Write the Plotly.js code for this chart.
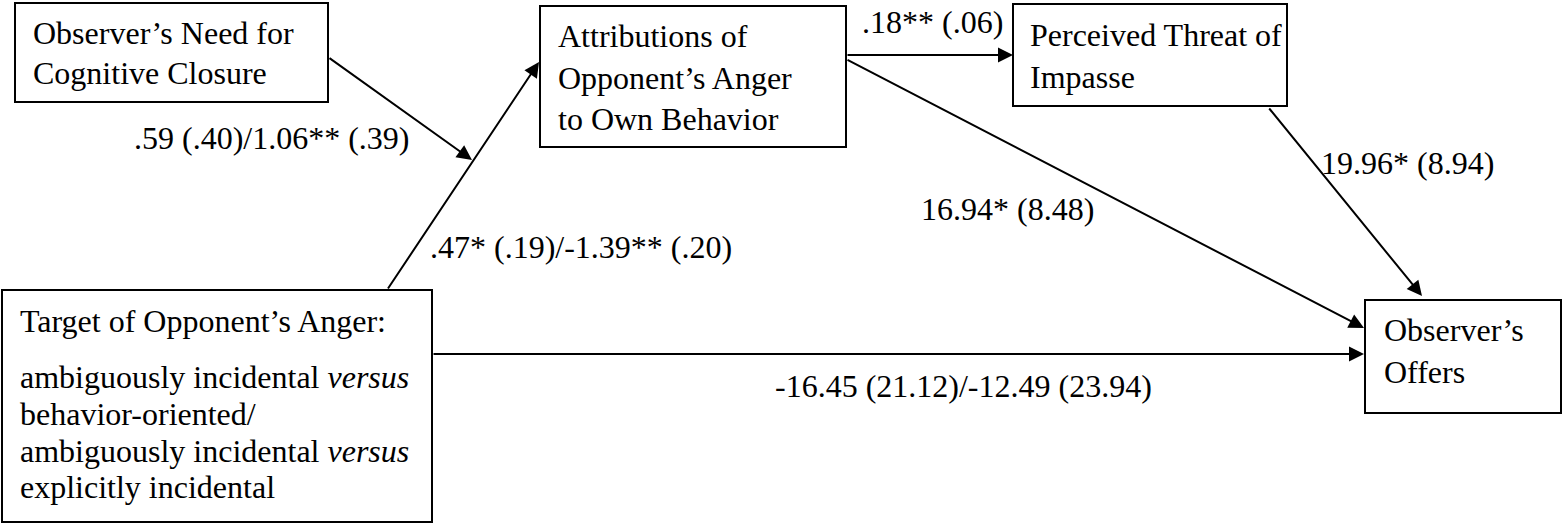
<!DOCTYPE html>
<html>
<head>
<meta charset="utf-8">
<script src="https://cdn.plot.ly/plotly-3.0.1.min.js"></script>
<style>
  html, body { margin: 0; padding: 0; background: #ffffff; }
  #chart { width: 1562px; height: 525px; }
</style>
</head>
<body>
<div id="chart"></div>
<script>
// ---------- data: node labels (one entry per text line) ----------
const nodeIds = ['need', 'attr', 'threat', 'target', 'offers'];
const needLabel = ['Observer’s Need for', 'Cognitive Closure'];
const attrLabel = ['Attributions of', 'Opponent’s Anger', 'to Own Behavior'];
const threatLabel = ['Perceived Threat of', 'Impasse'];
const targetLabel = [
  'Target of Opponent’s Anger:',
  'ambiguously incidental <i>versus</i>',
  'behavior-oriented/',
  'ambiguously incidental <i>versus</i>',
  'explicitly incidental'
];
const offersLabel = ['Observer’s', 'Offers'];

// ---------- data: paths and their coefficients (b (SE)) ----------
const pathFrom = ['need', 'target', 'attr', 'attr', 'threat', 'target'];
const pathTo = ['moderation', 'attr', 'threat', 'offers', 'offers', 'offers'];
const pathCoefficients = [
  '.59 (.40)/1.06** (.39)',
  '.47* (.19)/-1.39** (.20)',
  '.18** (.06)',
  '16.94* (8.48)',
  '19.96* (8.94)',
  '-16.45 (21.12)/-12.49 (23.94)'
];

// ---------- layout geometry (positions / sizes, kept apart from data) ----------
const boxGeom = {
  need:   {x0: 15,   y0: 3,   x1: 328,  y1: 102, tx: 33,   ty: [33, 73]},
  attr:   {x0: 540,  y0: 6,   x1: 846,  y1: 147, tx: 558,  ty: [36, 78, 119]},
  threat: {x0: 1013, y0: 4,   x1: 1287, y1: 106, tx: 1030, ty: [35, 77]},
  target: {x0: 2,    y0: 290, x1: 432,  y1: 522, tx: 20,   ty: [321, 377, 414, 451, 487]},
  offers: {x0: 1365, y0: 300, x1: 1561, y1: 413, tx: 1384, ty: [330, 372]}
};
const labelsById = {need: needLabel, attr: attrLabel, threat: threatLabel, target: targetLabel, offers: offersLabel};
// arrow tail -> tip in pixel space, and label centre, per path (same order as pathCoefficients)
const pathGeom = [
  {ax: 328, ay: 57,  x: 472,  y: 160, lx: 272,  ly: 138},
  {ax: 387, ay: 290, x: 539,  y: 62,  lx: 581,  ly: 247},
  {ax: 846, ay: 55,  x: 1013, y: 55,  lx: 932,  ly: 22},
  {ax: 846, ay: 59,  x: 1364, y: 328, lx: 1007, ly: 209},
  {ax: 1268, ay: 107, x: 1422, y: 296, lx: 1407, ly: 163},
  {ax: 432, ay: 354, x: 1364, y: 354, lx: 963,  ly: 386}
];

const FONT = {family: 'Liberation Serif', size: 32, color: '#000000'};

const shapes = [];
const annotations = [];

nodeIds.forEach(function (id) {
  const g = boxGeom[id];
  shapes.push({
    type: 'rect', xref: 'x', yref: 'y',
    x0: g.x0, y0: g.y0, x1: g.x1, y1: g.y1,
    line: {color: '#000000', width: 2},
    fillcolor: 'rgba(0,0,0,0)'
  });
  labelsById[id].forEach(function (line, i) {
    annotations.push({
      xref: 'x', yref: 'y', x: g.tx, y: g.ty[i],
      text: line, showarrow: false,
      xanchor: 'left', yanchor: 'middle',
      borderpad: 0, borderwidth: 0,
      font: FONT
    });
  });
});

pathCoefficients.forEach(function (coef, i) {
  const p = pathGeom[i];
  annotations.push({
    xref: 'x', yref: 'y', axref: 'x', ayref: 'y',
    x: p.x, y: p.y, ax: p.ax, ay: p.ay,
    text: '', showarrow: true,
    arrowhead: 2, arrowsize: 1.5, arrowwidth: 2, arrowcolor: '#000000',
    standoff: 0, startstandoff: 0
  });
  annotations.push({
    xref: 'x', yref: 'y', x: p.lx, y: p.ly,
    text: coef, showarrow: false,
    xanchor: 'center', yanchor: 'middle',
    borderpad: 0, borderwidth: 0,
    font: FONT
  });
});

const layout = {
  width: 1562, height: 525,
  margin: {l: 0, r: 0, t: 0, b: 0, pad: 0},
  paper_bgcolor: '#ffffff', plot_bgcolor: '#ffffff',
  showlegend: false,
  xaxis: {range: [0, 1562], visible: false, fixedrange: true},
  yaxis: {range: [525, 0], visible: false, fixedrange: true},
  shapes: shapes,
  annotations: annotations
};

Plotly.newPlot('chart', [], layout, {displayModeBar: false, staticPlot: true});
</script>
</body>
</html>
